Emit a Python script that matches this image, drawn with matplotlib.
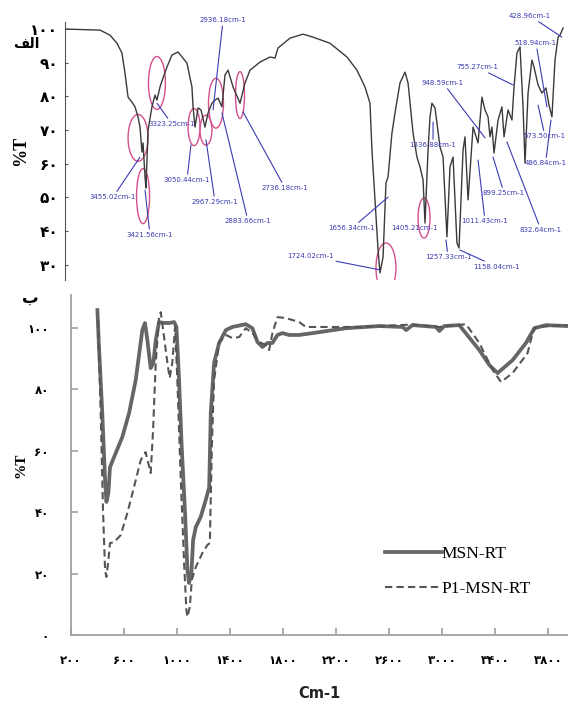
import matplotlib
matplotlib.use('Agg')
import matplotlib.pyplot as plt
from matplotlib.patches import Ellipse

# ---------------- top panel (FTIR spectrum) ----------------
top_wn = [4000, 3748, 3676, 3626, 3590, 3568, 3546, 3518, 3496, 3474, 3460, 3446, 3438, 3424,
          3417, 3402, 3374, 3352, 3338, 3316, 3294, 3266, 3230, 3186, 3122, 3086, 3078, 3064,
          3042, 3021, 2992, 2970, 2942, 2920, 2898, 2870, 2848, 2826, 2790, 2740, 2704, 2668,
          2596, 2524, 2488, 2466, 2380, 2286, 2214, 2092, 1970, 1898, 1840, 1804, 1790, 1768,
          1746, 1732, 1710, 1689, 1674, 1646, 1624, 1588, 1552, 1530, 1494, 1466, 1444, 1422,
          1408, 1386, 1372, 1358, 1336, 1300, 1278, 1250, 1228, 1206, 1178, 1163, 1134, 1120,
          1098, 1062, 1026, 998, 976, 954, 940, 926, 911, 882, 854, 839, 810, 782, 767, 746,
          724, 702, 688, 666, 638, 623, 594, 566, 537, 515, 494, 472, 450, 436, 414]
top_T = [100, 99.7, 98.2, 95.8, 92.9, 86.9, 79.8, 78.3, 76.9, 73.9, 70.9, 63.5, 66.2, 56.1,
         52.8, 70.0, 76.9, 80.4, 78.9, 82.8, 85.5, 88.7, 92.3, 93.2, 89.9, 82.8, 76.9, 70.9,
         76.6, 76.0, 70.9, 75.1, 78.0, 78.9, 79.5, 76.9, 86.4, 87.8, 82.8, 78.0, 84.0, 87.8,
         90.2, 91.7, 91.4, 94.4, 97.3, 98.5, 97.6, 95.8, 91.7, 87.8, 82.8, 78.0, 64.1, 49.3,
         34.4, 27.6, 32.3, 54.3, 56.1, 69.1, 75.1, 84.0, 87.2, 84.0, 69.1, 62.0, 59.1, 55.2,
         42.4, 64.1, 73.9, 78.0, 76.6, 65.0, 62.0, 38.3, 59.1, 62.0, 36.5, 35.0, 64.1, 68.0,
         49.3, 70.9, 66.2, 79.8, 76.0, 73.9, 68.0, 70.9, 63.2, 73.0, 76.9, 68.0, 76.0, 73.0, 82.8, 92.9,
         94.7, 76.9, 60.2, 81.0, 90.8, 88.7, 83.4, 81.0, 82.5, 77.4, 73.9, 90.8, 97.6, 98.2, 100.3]

peak_labels = ['3455.02cm-1', '3421.56cm-1', '3323.25cm-1', '3050.44cm-1', '2967.29cm-1',
               '2936.18cm-1', '2883.66cm-1', '2736.18cm-1', '1724.02cm-1', '1656.34cm-1',
               '1405.21cm-1', '1336.88cm-1', '1257.33cm-1', '1158.04cm-1', '1011.43cm-1',
               '948.59cm-1', '899.25cm-1', '832.64cm-1', '755.27cm-1', '518.94cm-1',
               '573.50cm-1', '486.84cm-1', '428.96cm-1']
peak_wn = [3460, 3424, 3338, 3093, 2985, 2934, 2870, 2718, 1732, 1674, 1408, 1350, 1257,
           1156, 1026, 976, 918, 818, 774, 530, 594, 501, 422]
peak_T = [62.0, 52.2, 78.0, 65.6, 67.1, 76.0, 75.1, 75.4, 28.5, 50.1, 42.4, 72.4, 37.4,
          34.4, 61.1, 67.7, 62.0, 66.5, 83.4, 76.9, 77.4, 73.0, 97.6]
# layout: where each label text sits (wavenumber, %T)
label_pos = [(3654, 50.1), (3388, 38.9), (3230, 71.8), (3122, 55.2), (2920, 48.7),
             (2862, 102.6), (2682, 43.0), (2416, 52.8), (2236, 32.6), (1934, 40.9),
             (1487, 40.9), (1350, 65.6), (1242, 32.3), (890, 29.4), (976, 43.0),
             (1278, 84.0), (839, 51.3), (573, 40.4), (1034, 88.7), (609, 95.8),
             (544, 68.2), (540, 60.2), (652, 103.9)]
ring_wn = [3474, 3438, 3338, 3071, 2985, 2913, 2740, 1689, 1415]
ring_T = [67.7, 50.4, 84.0, 70.9, 70.0, 78.0, 80.4, 29.1, 43.9]
ring_w = [144, 94, 122, 86, 86, 108, 65, 144, 86]
ring_h = [13.9, 16.3, 15.7, 11.0, 8.9, 14.8, 13.9, 14.8, 11.9]

top_yticks = [30, 40, 50, 60, 70, 80, 90, 100]
top_yticklabels = ['۳۰', '۴۰', '۵۰', '۶۰', '۷۰', '۸۰', '۹۰', '۱۰۰']

# ---------------- bottom panel ----------------
msn_wn = [399, 411, 436, 457, 467, 482, 494, 525, 587, 638, 688, 738, 758, 776, 801, 821, 839,
          864, 902, 940, 978, 995, 1015, 1035, 1060, 1078, 1090, 1108, 1121, 1141, 1178, 1216,
          1242, 1254, 1279, 1317, 1368, 1417, 1518, 1568, 1606, 1644, 1682, 1719, 1757, 1795,
          1845, 1921, 2022, 2274, 2525, 2701, 2727, 2776, 2953, 2978, 3015, 3128, 3279, 3355,
          3417, 3530, 3631, 3694, 3782, 3943]
msn_T = [105.7, 93.7, 72.2, 50.4, 43.3, 46.2, 54.6, 57.9, 64.4, 72.2, 82.9, 99.2, 101.5, 95.9,
         86.8, 88.5, 95.9, 101.8, 101.5, 101.5, 101.8, 100.2, 82.9, 61.1, 39.7, 21.1, 16.9,
         20.2, 30.9, 35.1, 38.4, 43.9, 48.1, 72.2, 88.5, 95.0, 99.2, 100.2, 101.1, 99.8, 95.3,
         93.7, 95.0, 95.0, 97.6, 98.2, 97.6, 97.6, 98.2, 99.8, 100.5, 100.2, 99.2, 100.8, 100.2,
         98.9, 100.5, 100.8, 92.7, 87.8, 85.2, 89.4, 95.0, 99.8, 100.8, 100.5]
p1_wn = [404, 424, 442, 457, 467, 482, 494, 525, 575, 625, 675, 726, 763, 783, 801, 819, 839,
         864, 877, 902, 927, 944, 964, 985, 1002, 1028, 1053, 1070, 1078, 1096, 1111, 1141,
         1191, 1229, 1247, 1262, 1279, 1317, 1368, 1417, 1468, 1518, 1568, 1619, 1669, 1694,
         1719, 1757, 1820, 1921, 1971, 2147, 2398, 2776, 2978, 3179, 3279, 3380, 3443, 3530,
         3643, 3681, 3706, 3943]
p1_T = [102.4, 72.2, 39.7, 21.1, 18.9, 24.4, 29.9, 30.2, 32.5, 39.7, 48.1, 56.9, 59.5, 55.9,
        52.7, 66.7, 88.5, 103.4, 105.0, 96.9, 88.5, 83.6, 88.5, 100.2, 82.9, 50.4, 23.4, 8.1,
        5.9, 9.1, 17.9, 22.1, 26.7, 29.3, 29.9, 61.1, 82.9, 95.0, 97.6, 96.6, 96.9, 99.8, 98.2,
        95.3, 94.3, 92.7, 98.2, 103.4, 103.1, 101.8, 100.2, 100.2, 100.2, 101.0, 100.2, 101.1,
        95.0, 86.2, 82.3, 85.2, 91.7, 98.2, 100.2, 100.8]
series_names = ['MSN-RT', 'P1-MSN-RT']

bot_xticks = [200, 600, 1000, 1400, 1800, 2200, 2600, 3000, 3400, 3800]
bot_xticklabels = ['۲۰۰', '۶۰۰', '۱۰۰۰', '۱۴۰۰', '۱۸۰۰', '۲۲۰۰', '۲۶۰۰', '۳۰۰۰', '۳۴۰۰', '۳۸۰۰']
bot_yticks = [0, 20, 40, 60, 80, 100]
bot_yticklabels = ['۰', '۲۰', '۴۰', '۶۰', '۸۰', '۱۰۰']

W, H = 568, 706
fig = plt.figure(figsize=(W / 100, H / 100), dpi=100)
fig.patch.set_facecolor('white')

blue = '#3b3bb3'
pink = '#d4508c'

# ---- top axes ----
ax1 = fig.add_axes([65 / W, 1 - 280 / H, 500 / W, 258 / H])
ax1.plot(top_wn, top_T, color='#3a3a3a', lw=1.0)
ax1.set_xlim(4000, 400)
ax1.set_ylim(25.5, 102.1)
for s in ['top', 'right', 'bottom']:
    ax1.spines[s].set_visible(False)
ax1.spines['left'].set_color('#555555')
ax1.set_xticks([])
ax1.set_yticks(top_yticks)
ax1.set_yticklabels(top_yticklabels, fontsize=11, fontweight='bold', family='DejaVu Sans')
ax1.tick_params(axis='y', direction='in', length=2, pad=5, colors='#555555', labelcolor='black')
ax1.set_ylabel('%T', fontsize=13, fontweight='bold', family='Liberation Serif', labelpad=1)

for lab, px, py, (tx, ty) in zip(peak_labels, peak_wn, peak_T, label_pos):
    if lab == '1405.21cm-1':
        ax1.text(tx, ty, lab, fontsize=5, color=blue, ha='center', va='center')
    else:
        ax1.annotate(lab, xy=(px, py), xytext=(tx, ty), fontsize=5, color=blue, ha='center',
                     va='center', annotation_clip=False,
                     arrowprops=dict(arrowstyle='-', color=blue, lw=0.8, shrinkA=0, shrinkB=0))

for cx, cy, w, h in zip(ring_wn, ring_T, ring_w, ring_h):
    ax1.add_patch(Ellipse((cx, cy), w, h, fill=False, ec=pink, lw=1.0))

fig.text(26 / W, 1 - 44 / H, '\uFED2\uFEDF\uFE8D', fontsize=10, fontweight='bold',
         family='DejaVu Sans', ha='center', va='center')

# ---- bottom axes ----
ax2 = fig.add_axes([71 / W, 1 - 635 / H, 497 / W, 340 / H])
ax2.plot(msn_wn, msn_T, color='#666666', lw=2.7, solid_joinstyle='round', label=series_names[0])
ax2.plot(p1_wn, p1_T, color='#555555', lw=1.5, ls=(0, (3.5, 2)), label=series_names[1])
ax2.set_xlim(200, 3948)
ax2.set_ylim(0, 110.6)
for s in ['top', 'right']:
    ax2.spines[s].set_visible(False)
for s in ['left', 'bottom']:
    ax2.spines[s].set_color('#a0a0a0')
    ax2.spines[s].set_linewidth(1.3)
ax2.set_xticks(bot_xticks)
ax2.set_xticklabels(bot_xticklabels, fontsize=8.5, fontweight='bold', family='DejaVu Sans')
ax2.set_yticks(bot_yticks)
ax2.set_yticklabels(bot_yticklabels, fontsize=8.5, fontweight='bold', family='DejaVu Sans')
ax2.tick_params(axis='both', direction='in', length=5, width=1.2, colors='#a0a0a0',
                labelcolor='black')
ax2.tick_params(axis='x', pad=14)
ax2.tick_params(axis='y', pad=16)
ax2.set_ylabel('%T', fontsize=11, fontweight='bold', family='Liberation Serif', labelpad=0)
ax2.set_xlabel('Cm-1', fontsize=10.5, fontweight='bold', family='DejaVu Sans', labelpad=13,
               color='#222222')

leg = ax2.legend(loc='upper left', bbox_to_anchor=(0.631, 0.262), frameon=False,
                 prop={'family': 'Liberation Serif', 'size': 12.5}, handlelength=3.3,
                 handletextpad=0.0, labelspacing=1.1, borderpad=0, borderaxespad=0)

fig.text(30 / W, 1 - 298 / H, '\uFE8F', fontsize=12, fontweight='bold', family='DejaVu Sans',
         ha='center', va='center')

fig.savefig('out.png', dpi=100)
